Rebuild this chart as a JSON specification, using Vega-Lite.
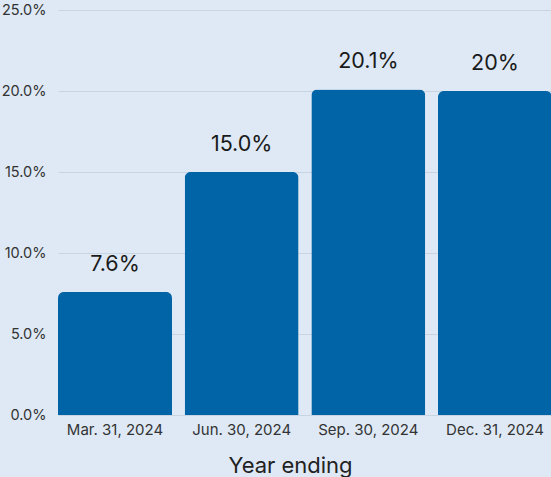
{
  "$schema": "https://vega.github.io/schema/vega-lite/v6.json",
  "width": 494,
  "height": 405,
  "autosize": "none",
  "padding": {"left": 58, "top": 10, "right": 0, "bottom": 62},
  "background": "#dee9f5",
  "config": {
    "view": {"stroke": null},
    "font": "Inter"
  },
  "data": {
    "values": [
      {"period": "Mar. 31, 2024", "value": 7.6, "label": "7.6%"},
      {"period": "Jun. 30, 2024", "value": 15.0, "label": "15.0%"},
      {"period": "Sep. 30, 2024", "value": 20.1, "label": "20.1%"},
      {"period": "Dec. 31, 2024", "value": 20.0, "label": "20%"}
    ]
  },
  "encoding": {
    "x": {
      "field": "period",
      "type": "nominal",
      "sort": null,
      "scale": {"paddingInner": 0.1, "paddingOuter": 0},
      "axis": {
        "title": "Year ending",
        "titleFontSize": 22,
        "titleFontWeight": "normal",
        "titleColor": "#222222",
        "titleX": 232,
        "titleY": 57,
        "titleAnchor": "middle",
        "titleBaseline": "alphabetic",
        "labelAngle": 0,
        "labelFontSize": 15,
        "labelColor": "#333333",
        "labelPadding": 7,
        "ticks": false,
        "domain": false
      }
    },
    "y": {
      "field": "value",
      "type": "quantitative",
      "scale": {"domain": [0, 25]},
      "axis": {
        "title": null,
        "values": [0, 5, 10, 15, 20, 25],
        "labelExpr": "format(datum.value, '.1f') + '%'",
        "labelFontSize": 14.5,
        "labelColor": "#333333",
        "labelPadding": 12,
        "ticks": false,
        "domain": false,
        "gridColor": "#c8d4e2",
        "gridWidth": 1
      }
    }
  },
  "layer": [
    {
      "mark": {"type": "bar", "color": "#0064a6", "cornerRadiusTopLeft": 6, "cornerRadiusTopRight": 6}
    },
    {
      "mark": {"type": "text", "baseline": "middle", "dy": -27, "fontSize": 21.5, "color": "#1a1a1a"},
      "encoding": {"text": {"field": "label"}}
    }
  ]
}
